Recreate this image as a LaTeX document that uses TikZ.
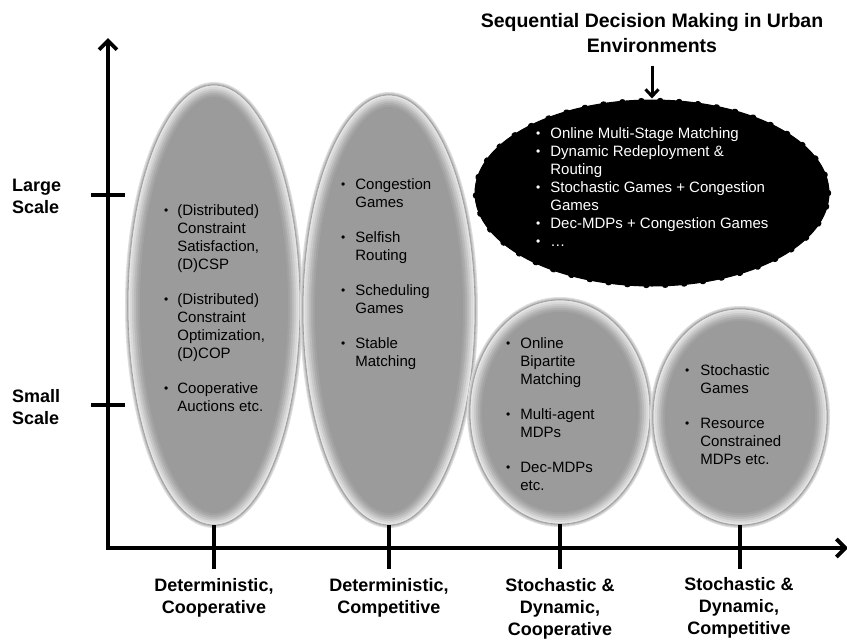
\documentclass[tikz,border=0pt]{standalone}
\usepackage{fontspec}
\setmainfont{Liberation Sans}
\usetikzlibrary{arrows.meta,shapes.geometric,decorations.markings}

\tikzset{
  axis/.style={line width=3.8pt, draw=black},
  axisarrow/.style={axis, -{Straight Barb[length=9pt,width=18pt,line width=3.8pt]}},
  tick/.style={line width=3.6pt, draw=black},
  bubblenode/.style={ellipse, inner sep=0pt, fill={rgb,255:red,155;green,155;blue,155}},
  darkbubble/.style={ellipse, inner sep=0pt, fill=black, draw=black, line width=1pt,
    postaction={decorate, decoration={markings,
      mark=between positions 0 and 1 step 19pt with {\fill[black] (0,0) ellipse [x radius=3pt, y radius=2.2pt];}}}},
  itemtext/.style={anchor=base west, inner sep=0pt, font=\fontsize{15}{18}\selectfont},
  boldlabel/.style={anchor=base, inner sep=0pt, font=\fontsize{18}{22}\selectfont\bfseries},
}

% a grey ellipse with a light bevelled rim and a soft outer shadow
\newcommand\bevelbubble[5]{%
  \foreach \w/\c in {6/gray!25, 4/gray!40, 2/gray!60}
    \draw[line width=\w pt, draw=\c] (#2,#3) ellipse [x radius=#4, y radius=#5];
  \node[bubblenode, minimum width=2*#4pt, minimum height=2*#5pt] (#1) at (#2,#3) {};
  \begin{scope}
    \clip (#2,#3) ellipse [x radius=#4, y radius=#5];
    \foreach \w/\c in {24/{rgb,255:red,162;green,162;blue,162},
                       20/{rgb,255:red,172;green,172;blue,172},
                       16/{rgb,255:red,186;green,186;blue,186},
                       12/{rgb,255:red,201;green,201;blue,201},
                        8/{rgb,255:red,216;green,216;blue,216},
                        4/{rgb,255:red,228;green,228;blue,228}}
      \draw[line width=\w pt, draw=\c] (#2,#3) ellipse [x radius=#4, y radius=#5];
  \end{scope}
  \draw[line width=0.6pt, draw=gray!80] (#2,#3) ellipse [x radius=#4, y radius=#5];
}

% small list bullet
\newcommand\bl{\raisebox{0.5pt}{\scalebox{0.8}{\textbullet}}}

\begin{document}
\begin{tikzpicture}[x=1pt,y=-1pt]
\useasboundingbox (0,0) rectangle (847,643);
\fill[white] (0,0) rectangle (847,643);

% bubbles
\bevelbubble{e1}{214}{305}{86}{220}
\bevelbubble{e2}{389}{310}{86}{215}
\bevelbubble{e3}{560}{412}{90}{112}
\bevelbubble{e4}{740}{417}{87}{108}
\node[darkbubble, minimum width=354pt, minimum height=186pt] (urban) at (652,193) {};

% axes
\coordinate (origin) at (108,548);
\coordinate (ytop) at (108,38);
\coordinate (xend) at (848,548);
\draw[axisarrow] ([yshift=1.9pt]origin) -- (ytop);
\draw[axisarrow] ([xshift=-1.9pt]origin) -- (xend);

% axis ticks
\coordinate (large) at (91,195);
\coordinate (largeend) at (125,195);
\coordinate (small) at (91,405);
\coordinate (smallend) at (125,405);
\draw[tick] (large) -- (largeend);
\draw[tick] (small) -- (smallend);
\foreach \e/\x in {e1/214, e2/389, e3/560, e4/740} {
  \coordinate (\e tick) at (\x,569);
  \draw[tick] (\e.south) -- (\e tick);
}

% bubble contents
\node[itemtext] (t1) at (164,215) {\begin{tabular}[t]{@{}l@{\hspace{9pt}}l@{}}
\bl & (Distributed)\\ & Constraint\\ & Satisfaction,\\ & (D)CSP\\[17pt]
\bl & (Distributed)\\ & Constraint\\ & Optimization,\\ & (D)COP\\[17pt]
\bl & Cooperative\\ & Auctions etc.
\end{tabular}};

\node[itemtext] (t2) at (341,189) {\begin{tabular}[t]{@{}l@{\hspace{10pt}}l@{}}
\bl & Congestion\\ & Games\\[17pt]
\bl & Selfish\\ & Routing\\[17pt]
\bl & Scheduling\\ & Games\\[17pt]
\bl & Stable\\ & Matching
\end{tabular}};

\node[itemtext] (t3) at (506,348) {\begin{tabular}[t]{@{}l@{\hspace{10pt}}l@{}}
\bl & Online\\ & Bipartite\\ & Matching\\[17pt]
\bl & Multi-agent\\ & MDPs\\[17pt]
\bl & Dec-MDPs\\ & etc.
\end{tabular}};

\node[itemtext] (t4) at (685,375) {\begin{tabular}[t]{@{}l@{\hspace{11pt}}l@{}}
\bl & Stochastic\\ & Games\\[17pt]
\bl & Resource\\ & Constrained\\ & MDPs etc.
\end{tabular}};

\node[itemtext, text=white] (t5) at (536,138) {\begin{tabular}[t]{@{}l@{\hspace{10pt}}l@{}}
\bl & Online Multi-Stage Matching\\
\bl & Dynamic Redeployment \&\\ & Routing\\
\bl & Stochastic Games + Congestion\\ & Games\\
\bl & Dec-MDPs + Congestion Games\\
\bl & \dots
\end{tabular}};

% title and its arrow
\node[anchor=base, inner sep=0pt, font=\fontsize{19.5}{25}\selectfont\bfseries] (title) at (652,27)
  {\begin{tabular}[t]{@{}c@{}}Sequential Decision Making in Urban\\Environments\end{tabular}};
\draw[line width=3pt, -{Straight Barb[length=7pt,width=13pt,line width=3pt]},
  shorten <=6pt, shorten >=1pt] (title.south -| urban.north) -- (urban.north);

% axis labels
\node[boldlabel, anchor=base west] (lg) at (12,191)
  {\begin{tabular}[t]{@{}l@{}}Large\\Scale\end{tabular}};
\node[boldlabel, anchor=base west] (sm) at (12,402)
  {\begin{tabular}[t]{@{}l@{}}Small\\Scale\end{tabular}};

\node[boldlabel] (c1) at (214,591) {\begin{tabular}[t]{@{}c@{}}Deterministic,\\Cooperative\end{tabular}};
\node[boldlabel] (c2) at (389,591) {\begin{tabular}[t]{@{}c@{}}Deterministic,\\Competitive\end{tabular}};
\node[boldlabel] (c3) at (560,591) {\begin{tabular}[t]{@{}c@{}}Stochastic \&\\Dynamic,\\Cooperative\end{tabular}};
\node[boldlabel] (c4) at (739,590) {\begin{tabular}[t]{@{}c@{}}Stochastic \&\\Dynamic,\\Competitive\end{tabular}};
\end{tikzpicture}
\end{document}
